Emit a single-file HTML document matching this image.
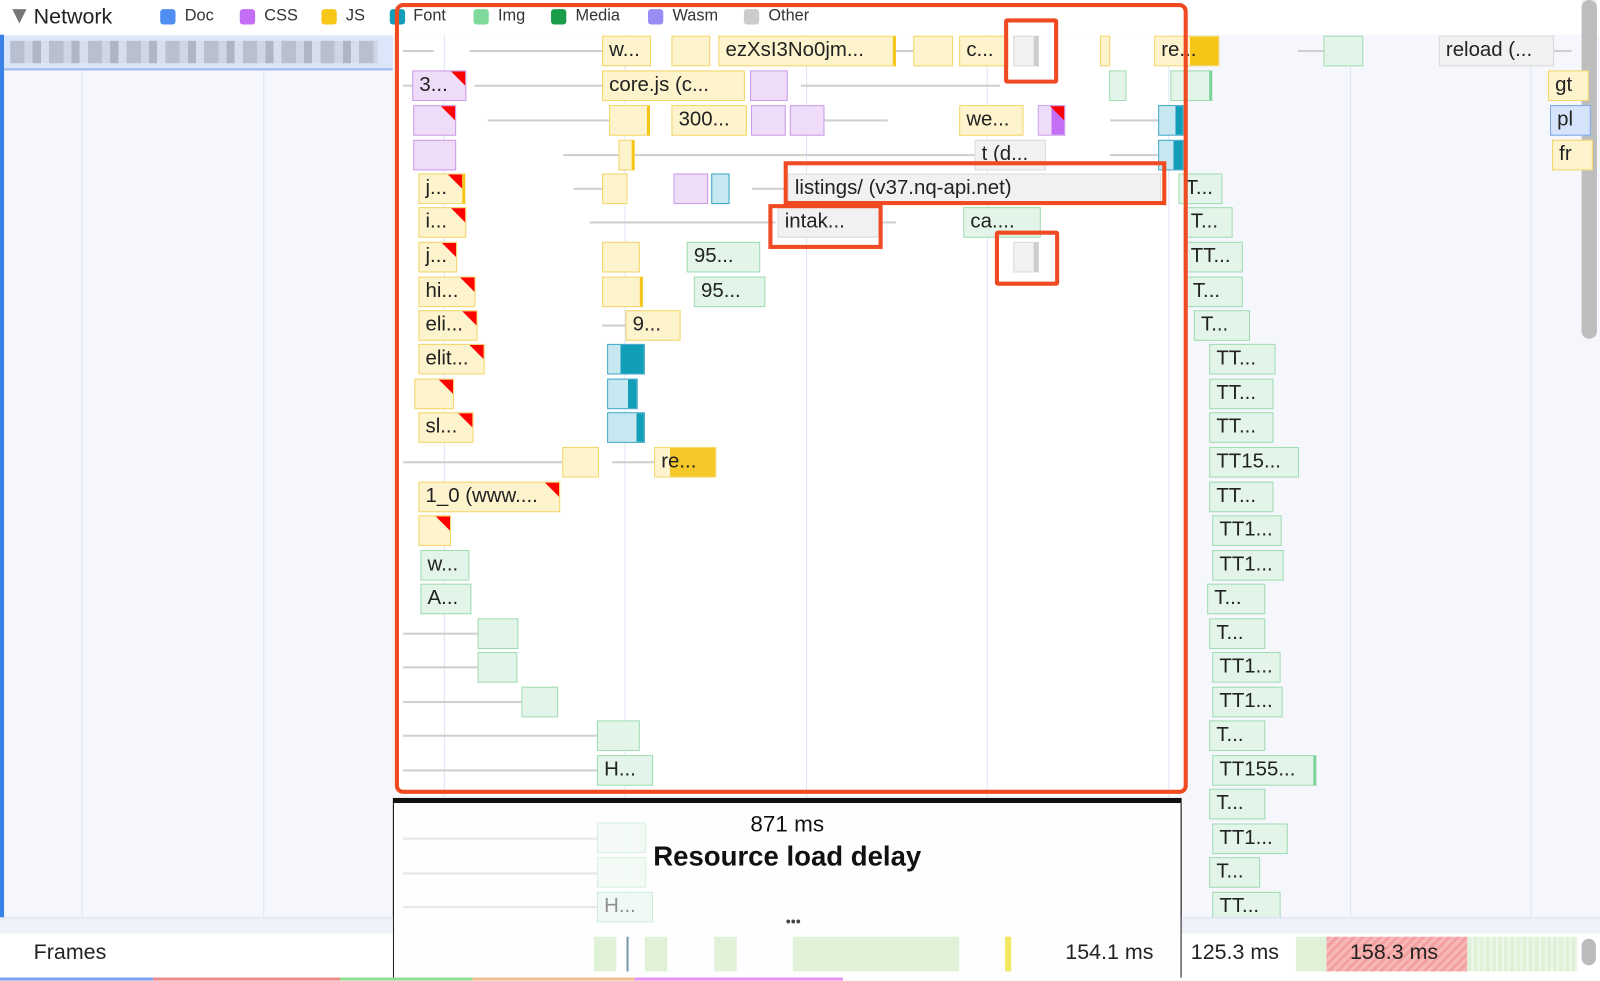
<!DOCTYPE html>
<html><head><meta charset="utf-8"><style>
html,body{margin:0;padding:0;width:1600px;height:981px;overflow:hidden;background:#f7f8fd}
#w{position:absolute;left:0;top:0;width:1568px;height:961px;transform:scale(1.0204);transform-origin:0 0;font-family:"Liberation Sans",sans-serif;background:#f6f7fc;overflow:hidden}
.a{position:absolute}
.g{position:absolute;top:34px;width:1px;height:866px;background:#dde6f7}
.b{position:absolute;height:30px;box-sizing:border-box;border:1.5px solid;font-size:20px;line-height:27px;padding-left:6px;overflow:hidden;white-space:nowrap;color:#222}
.j{background:#fdf3cc;border-color:#f3d66a}
.c{background:#efdcf8;border-color:#c99ce8}
.i{background:#e3f5e8;border-color:#9fdcb2}
.o{background:#f1f1f1;border-color:#dadada}
.f{background:#c7e7f1;border-color:#3aa6c6}
.d{background:#d6e4fb;border-color:#7aa7ee}
.r::after{content:"";position:absolute;right:0;top:0;border-top:14px solid #f00;border-left:14px solid transparent}
.l{position:absolute;height:2px;background:#cfcfcf}
.wh{position:absolute;background:#fff}
</style></head><body><div id="w">
<!-- backgrounds -->
<div class="wh" style="left:390px;top:34px;width:770px;height:745px"></div>
<div class="g" style="left:80px"></div><div class="g" style="left:258px"></div><div class="g" style="left:435px"></div><div class="g" style="left:612px"></div><div class="g" style="left:790px"></div><div class="g" style="left:967px"></div><div class="g" style="left:1145px"></div><div class="g" style="left:1323px"></div><div class="g" style="left:1500px"></div>
<div class="a" style="left:0;top:0;width:4px;height:900px;background:#3b82e8"></div>
<div class="a" style="left:4px;top:35px;width:381px;height:32px;background:#dbe6fb;border-bottom:2px solid #9cbcf0"></div>
<div class="a" style="left:10px;top:40px;width:360px;height:22px;background:repeating-linear-gradient(90deg,#a9b0bd 0 14px,#c8ceda 14px 22px,#9aa2b0 22px 30px,#d4d9e4 30px 38px);opacity:.7"></div>
<!-- header -->
<div class="a" style="left:0;top:0;width:1568px;height:34px;background:#fff"></div>
<div class="a" style="left:12px;top:9px;border-top:14px solid #777;border-left:7px solid transparent;border-right:7px solid transparent"></div>
<div class="a" style="left:33px;top:5px;font-size:21px;color:#222">Network</div>
<div class="a" style="left:157px;top:9px;width:15px;height:15px;border-radius:3px;background:#4e8df2"></div><div class="a" style="left:181px;top:7px;font-size:16px;color:#333">Doc</div>
<div class="a" style="left:235px;top:9px;width:15px;height:15px;border-radius:3px;background:#c36ef5"></div><div class="a" style="left:259px;top:7px;font-size:16px;color:#333">CSS</div>
<div class="a" style="left:315px;top:9px;width:15px;height:15px;border-radius:3px;background:#f7c619"></div><div class="a" style="left:339px;top:7px;font-size:16px;color:#333">JS</div>
<div class="a" style="left:382px;top:9px;width:15px;height:15px;border-radius:3px;background:#129eb8"></div><div class="a" style="left:405px;top:7px;font-size:16px;color:#333">Font</div>
<div class="a" style="left:464px;top:9px;width:15px;height:15px;border-radius:3px;background:#7fd99a"></div><div class="a" style="left:488px;top:7px;font-size:16px;color:#333">Img</div>
<div class="a" style="left:540px;top:9px;width:15px;height:15px;border-radius:3px;background:#1a9d48"></div><div class="a" style="left:564px;top:7px;font-size:16px;color:#333">Media</div>
<div class="a" style="left:635px;top:9px;width:15px;height:15px;border-radius:3px;background:#9a8cf5"></div><div class="a" style="left:659px;top:7px;font-size:16px;color:#333">Wasm</div>
<div class="a" style="left:729px;top:9px;width:15px;height:15px;border-radius:3px;background:#ccc"></div><div class="a" style="left:753px;top:7px;font-size:16px;color:#333">Other</div>
<div class="a" style="left:1550px;top:0;width:15px;height:330px;background:#f0f0f0"></div>
<div class="a" style="left:1550px;top:0;width:15px;height:332px;border-radius:8px;background:#bdbdbd"></div>

<!-- row0 y35 -->
<div class="l" style="left:395px;top:49px;width:30px"></div><div class="l" style="left:460px;top:49px;width:130px"></div>
<div class="b j" style="left:590px;top:35px;width:48px">w...</div>
<div class="b j" style="left:658px;top:35px;width:38px"></div>
<div class="b j" style="left:704px;top:35px;width:174px;border-right:3px solid #f5c518">ezXsI3No0jm...</div>
<div class="l" style="left:878px;top:49px;width:17px"></div>
<div class="b j" style="left:895px;top:35px;width:39px"></div>
<div class="b j" style="left:940px;top:35px;width:48px">c...</div>
<div class="b o" style="left:993px;top:35px;width:25px;border-right:5px solid #ccc"></div>
<div class="b j" style="left:1078px;top:35px;width:10px"></div>
<div class="b j" style="left:1131px;top:35px;width:64px;background:linear-gradient(90deg,#fdf3cc 0 55%,#f5c518 55%)">re...</div>
<div class="l" style="left:1272px;top:49px;width:25px"></div>
<div class="b i" style="left:1297px;top:35px;width:39px"></div>
<div class="b o" style="left:1410px;top:35px;width:113px">reload (...</div>
<div class="l" style="left:1523px;top:49px;width:17px"></div>
<!-- row1 y69 -->
<div class="l" style="left:395px;top:83px;width:9px"></div>
<div class="b c r" style="left:404px;top:69px;width:53px">3...</div>
<div class="l" style="left:465px;top:83px;width:125px"></div>
<div class="b j" style="left:590px;top:69px;width:140px">core.js (c...</div>
<div class="b c" style="left:735px;top:69px;width:37px"></div>
<div class="l" style="left:785px;top:83px;width:195px"></div>
<div class="b i" style="left:1087px;top:69px;width:17px"></div>
<div class="b i" style="left:1147px;top:69px;width:41px;border-right:3px solid #7dd29a"></div>
<div class="b j" style="left:1517px;top:69px;width:40px">gt</div>
<!-- row2 y103 -->
<div class="b c r" style="left:405px;top:103px;width:42px"></div>
<div class="l" style="left:478px;top:117px;width:119px"></div>
<div class="b j" style="left:597px;top:103px;width:40px;border-right:3px solid #f5c518"></div>
<div class="b j" style="left:658px;top:103px;width:74px">300...</div>
<div class="b c" style="left:736px;top:103px;width:34px"></div>
<div class="b c" style="left:774px;top:103px;width:34px"></div>
<div class="l" style="left:808px;top:117px;width:62px"></div>
<div class="b j" style="left:940px;top:103px;width:63px">we...</div>
<div class="b c r" style="left:1017px;top:103px;width:27px;background:linear-gradient(90deg,#efdcf8 50%,#c36ef5 50%)"></div>
<div class="l" style="left:1088px;top:117px;width:47px"></div>
<div class="b f" style="left:1135px;top:103px;width:25px;background:linear-gradient(90deg,#c7e7f1 70%,#129eb8 70%)"></div>
<div class="b d" style="left:1519px;top:103px;width:40px">pl</div>
<!-- row3 y137 -->
<div class="b c" style="left:405px;top:137px;width:42px"></div>
<div class="l" style="left:552px;top:151px;width:54px"></div>
<div class="b j" style="left:606px;top:137px;width:16px;border-right:3px solid #f5c518"></div>
<div class="l" style="left:622px;top:151px;width:333px"></div>
<div class="b o" style="left:955px;top:137px;width:70px">t (d...</div>
<div class="l" style="left:1088px;top:151px;width:47px"></div>
<div class="b f" style="left:1135px;top:137px;width:25px;background:linear-gradient(90deg,#c7e7f1 60%,#129eb8 60%)"></div>
<div class="b j" style="left:1521px;top:137px;width:40px">fr</div>
<!-- row4 y170 -->
<div class="b j r" style="left:410px;top:170px;width:46px;border-right:3px solid #f5c518">j...</div>
<div class="l" style="left:562px;top:184px;width:28px"></div>
<div class="b j" style="left:590px;top:170px;width:25px"></div>
<div class="b c" style="left:660px;top:170px;width:34px"></div>
<div class="b f" style="left:697px;top:170px;width:18px"></div>
<div class="l" style="left:737px;top:184px;width:35px"></div>
<div class="b o" style="left:772px;top:170px;width:366px">listings/ (v37.nq-api.net)</div>
<div class="b i" style="left:1155px;top:170px;width:43px">T...</div>
<!-- row5 y203 -->
<div class="b j r" style="left:410px;top:203px;width:47px">i...</div>
<div class="l" style="left:578px;top:217px;width:182px"></div>
<div class="b o" style="left:762px;top:203px;width:100px">intak...</div>
<div class="l" style="left:862px;top:217px;width:16px"></div>
<div class="b i" style="left:944px;top:203px;width:76px">ca....</div>
<div class="b i" style="left:1160px;top:203px;width:48px">T...</div>
<!-- row6 y237 -->
<div class="b j r" style="left:410px;top:237px;width:38px">j...</div>
<div class="b j" style="left:590px;top:237px;width:37px"></div>
<div class="b i" style="left:673px;top:237px;width:72px">95...</div>
<div class="b o" style="left:993px;top:237px;width:25px;border-right:5px solid #ccc"></div>
<div class="b i" style="left:1160px;top:237px;width:58px">TT...</div>
<!-- row7 y271 -->
<div class="b j r" style="left:410px;top:271px;width:56px">hi...</div>
<div class="b j" style="left:590px;top:271px;width:40px;border-right:3px solid #f5c518"></div>
<div class="b i" style="left:680px;top:271px;width:70px">95...</div>
<div class="b i" style="left:1162px;top:271px;width:56px">T...</div>
<!-- row8 y304 -->
<div class="b j r" style="left:410px;top:304px;width:58px">eli...</div>
<div class="l" style="left:590px;top:318px;width:23px"></div>
<div class="b j" style="left:613px;top:304px;width:54px">9...</div>
<div class="b i" style="left:1170px;top:304px;width:55px">T...</div>
<!-- row9 y337 -->
<div class="b j r" style="left:410px;top:337px;width:65px">elit...</div>
<div class="b f" style="left:595px;top:337px;width:37px;background:linear-gradient(90deg,#c7e7f1 35%,#129eb8 35%)"></div>
<div class="b i" style="left:1185px;top:337px;width:65px">TT...</div>
<!-- row10 y371 -->
<div class="b j r" style="left:406px;top:371px;width:39px"></div>
<div class="b f" style="left:595px;top:371px;width:30px;background:linear-gradient(90deg,#c7e7f1 70%,#129eb8 70%)"></div>
<div class="b i" style="left:1185px;top:371px;width:63px">TT...</div>
<!-- row11 y404 -->
<div class="b j r" style="left:410px;top:404px;width:54px">sl...</div>
<div class="b f" style="left:595px;top:404px;width:37px;background:linear-gradient(90deg,#c7e7f1 80%,#129eb8 80%)"></div>
<div class="b i" style="left:1185px;top:404px;width:63px">TT...</div>
<!-- row12 y438 -->
<div class="l" style="left:395px;top:452px;width:156px"></div>
<div class="b j" style="left:551px;top:438px;width:36px"></div>
<div class="l" style="left:600px;top:452px;width:41px"></div>
<div class="b j" style="left:641px;top:438px;width:61px;background:linear-gradient(90deg,#fdf3cc 0 25%,#f7c82a 25%)">re...</div>
<div class="b i" style="left:1185px;top:438px;width:88px">TT15...</div>
<!-- row13 y472 -->
<div class="b j r" style="left:410px;top:472px;width:139px">1_0 (www....</div>
<div class="b i" style="left:1185px;top:472px;width:63px">TT...</div>
<!-- row14 y505 -->
<div class="b j r" style="left:410px;top:505px;width:32px"></div>
<div class="b i" style="left:1188px;top:505px;width:68px">TT1...</div>
<!-- row15 y539 -->
<div class="b i" style="left:412px;top:539px;width:48px">w...</div>
<div class="b i" style="left:1188px;top:539px;width:70px">TT1...</div>
<!-- row16 y572 -->
<div class="b i" style="left:412px;top:572px;width:50px">A...</div>
<div class="b i" style="left:1183px;top:572px;width:57px">T...</div>
<!-- row17 y606 -->
<div class="l" style="left:395px;top:620px;width:73px"></div><div class="b i" style="left:468px;top:606px;width:40px"></div>
<div class="b i" style="left:1185px;top:606px;width:55px">T...</div>
<!-- row18 y639 -->
<div class="l" style="left:395px;top:653px;width:73px"></div><div class="b i" style="left:468px;top:639px;width:39px"></div>
<div class="b i" style="left:1188px;top:639px;width:67px">TT1...</div>
<!-- row19 y673 -->
<div class="l" style="left:395px;top:687px;width:116px"></div><div class="b i" style="left:511px;top:673px;width:36px"></div>
<div class="b i" style="left:1188px;top:673px;width:69px">TT1...</div>
<!-- row20 y706 -->
<div class="l" style="left:395px;top:720px;width:190px"></div><div class="b i" style="left:585px;top:706px;width:42px"></div>
<div class="b i" style="left:1185px;top:706px;width:55px">T...</div>
<!-- row21 y740 -->
<div class="l" style="left:395px;top:754px;width:190px"></div><div class="b i" style="left:585px;top:740px;width:55px">H...</div>
<div class="b i" style="left:1188px;top:740px;width:102px;border-right:3px solid #7dd29a">TT155...</div>
<!-- rows 22-25 right -->
<div class="b i" style="left:1185px;top:773px;width:55px">T...</div>
<div class="b i" style="left:1188px;top:807px;width:74px">TT1...</div>
<div class="b i" style="left:1185px;top:840px;width:50px">T...</div>
<div class="b i" style="left:1188px;top:874px;width:67px">TT...</div>
<!-- selection overlay -->
<div class="a" style="left:387px;top:3px;width:777px;height:775px;box-sizing:border-box;border:4px solid #f04a23;border-radius:8px"></div>
<div class="a" style="left:768px;top:158px;width:375px;height:43px;box-sizing:border-box;border:4px solid #f04a23"></div>
<div class="a" style="left:753px;top:200px;width:112px;height:44px;box-sizing:border-box;border:4px solid #f04a23"></div>
<div class="a" style="left:984px;top:18px;width:53px;height:64px;box-sizing:border-box;border:4px solid #f04a23;border-radius:3px"></div>
<div class="a" style="left:975px;top:226px;width:63px;height:54px;box-sizing:border-box;border:4px solid #f04a23;border-radius:3px"></div>
<!-- delay box -->
<div class="a" style="left:385px;top:782px;width:773px;height:5px;background:#111"></div>
<div class="a" style="left:385px;top:787px;width:771px;height:174px;border-left:1px solid #000;border-right:1px solid #000;background:rgba(255,255,255,.85)"></div>
<div class="l" style="left:395px;top:821px;width:190px;opacity:.5"></div><div class="b i" style="left:585px;top:806px;width:48px;opacity:.4"></div>
<div class="l" style="left:395px;top:855px;width:190px;opacity:.5"></div><div class="b i" style="left:585px;top:840px;width:48px;opacity:.4"></div>
<div class="l" style="left:395px;top:888px;width:190px;opacity:.5"></div><div class="b i" style="left:585px;top:874px;width:55px;opacity:.5">H...</div>
<div class="a" style="left:385px;top:795px;width:773px;text-align:center;font-size:22px;color:#111">871 ms</div>
<div class="a" style="left:385px;top:824px;width:773px;text-align:center;font-size:27px;font-weight:bold;color:#111">Resource load delay</div>
<!-- bottom bar -->
<div class="a" style="left:0;top:899px;width:385px;height:16px;background:#eef1f8;border-top:1px solid #d9e1f2"></div>
<div class="a" style="left:1158px;top:899px;width:410px;height:16px;background:#eef1f8;border-top:1px solid #d9e1f2"></div>
<div class="a" style="left:770px;top:895px;font-size:14px;color:#444">•••</div>
<div class="a" style="left:0;top:915px;width:385px;height:43px;background:#fff"></div>
<div class="a" style="left:1158px;top:915px;width:410px;height:43px;background:#fff"></div>
<div class="a" style="left:33px;top:922px;font-size:21px;color:#222">Frames</div>
<div class="a" style="left:582px;top:918px;width:22px;height:34px;background:#dff2d8"></div>
<div class="a" style="left:614px;top:918px;width:2px;height:34px;background:#79a"></div>
<div class="a" style="left:632px;top:918px;width:22px;height:34px;background:#dff2d8"></div>
<div class="a" style="left:700px;top:918px;width:22px;height:34px;background:#dff2d8"></div>
<div class="a" style="left:777px;top:918px;width:163px;height:34px;background:#dff2d8"></div>
<div class="a" style="left:985px;top:918px;width:6px;height:34px;background:#f0e860"></div>
<div class="a" style="left:1044px;top:922px;font-size:21px;color:#222">154.1 ms</div>
<div class="a" style="left:1167px;top:922px;font-size:21px;color:#222">125.3 ms</div>
<div class="a" style="left:1270px;top:918px;width:30px;height:34px;background:#dff2d8"></div>
<div class="a" style="left:1300px;top:918px;width:138px;height:34px;background:repeating-linear-gradient(135deg,#f3a0a0 0 3px,#f8b8b8 3px 6px)"></div>
<div class="a" style="left:1323px;top:922px;font-size:21px;color:#222">158.3 ms</div>
<div class="a" style="left:1438px;top:918px;width:108px;height:34px;background:repeating-linear-gradient(90deg,#dff2d8 0 4px,#eef8ea 4px 6px)"></div>
<div class="a" style="left:1550px;top:920px;width:14px;height:26px;border-radius:7px;background:#bbb"></div>
<div class="a" style="left:0;top:958px;width:1568px;height:3px;background:linear-gradient(90deg,#7aa0f0 0 150px,#f08a8a 150px 333px,#90dd90 333px 463px,#f0c090 463px 622px,#e890f0 622px 826px,#fff 826px)"></div>
</div></body></html>
